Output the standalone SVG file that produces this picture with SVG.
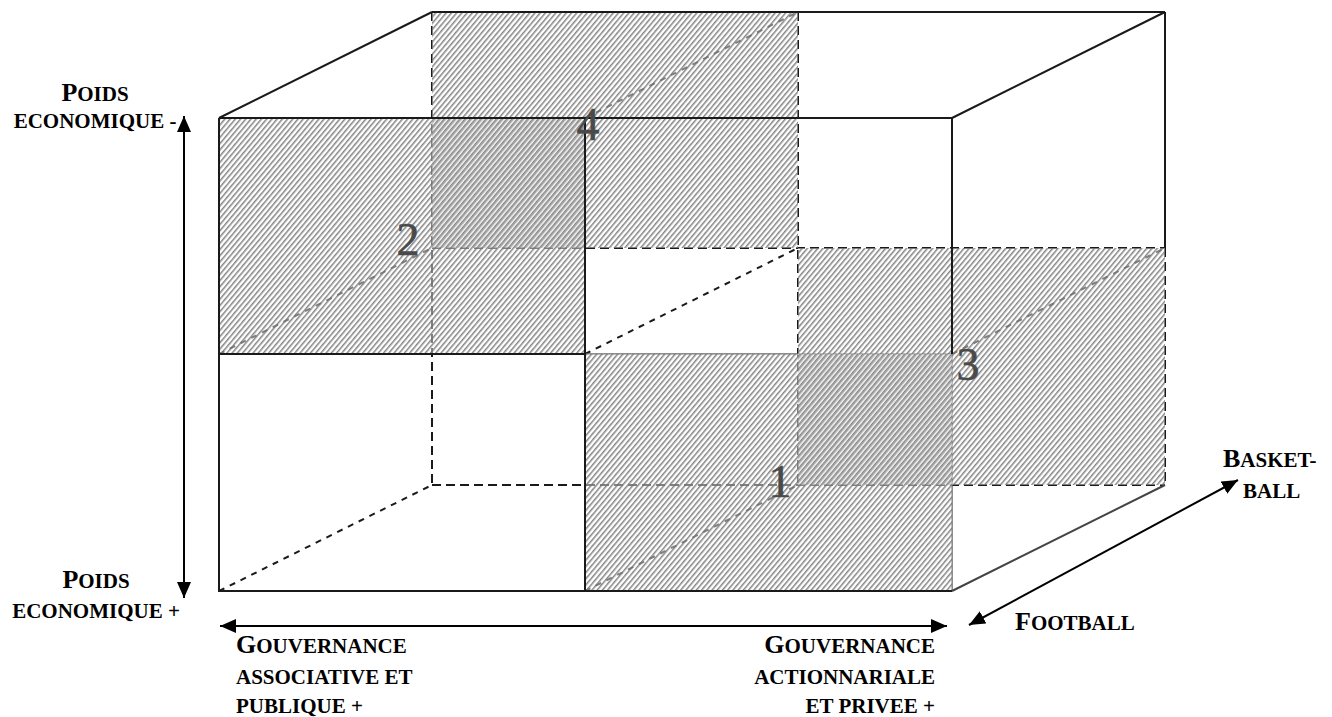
<svg xmlns="http://www.w3.org/2000/svg" width="1332" height="717" viewBox="0 0 1332 717">
<style>
.solid{fill:none;stroke:#1a1a1a;stroke-width:2}
.grey{fill:none;stroke:#666;stroke-width:1.5}
.dash{fill:none;stroke:#1a1a1a;stroke-width:2;stroke-dasharray:9 5}
.ddash{fill:none;stroke:#1a1a1a;stroke-width:2;stroke-dasharray:6 6}
.veil{fill:#fff;fill-opacity:0.45}
.lbl{font-family:"Liberation Serif","Times New Roman",serif;font-weight:bold;fill:#000;font-size:21px}
.big{font-size:26px}
.num{font-family:"Liberation Serif","Times New Roman",serif;font-size:46px;fill:#4a4a4a;stroke:#4a4a4a;stroke-width:0.6;text-anchor:middle}
.axis{fill:none;stroke:#000;stroke-width:2}
</style>
<defs>
<pattern id="hatchF" width="4" height="4" patternUnits="userSpaceOnUse" patternTransform="rotate(40)">
<line x1="0.8" y1="-1" x2="0.8" y2="5" stroke="#707070" stroke-width="1.3"/>
</pattern>
<pattern id="hatchB" width="4" height="4" patternUnits="userSpaceOnUse" patternTransform="rotate(40) translate(1.3,0)">
<line x1="0.8" y1="-1" x2="0.8" y2="5" stroke="#707070" stroke-width="1.3"/>
</pattern>
<marker id="ah" viewBox="0 0 16 14" refX="16" refY="7" markerWidth="16" markerHeight="14" orient="auto-start-reverse" markerUnits="userSpaceOnUse">
<path d="M0,0 L16,7 L0,14 z" fill="#000"/>
</marker>
</defs>
<rect width="1332" height="717" fill="#fff"/>

<g id="hidden-lines">
<line class="dash" x1="432" y1="12" x2="432" y2="485"/>
<line class="dash" x1="798" y1="12" x2="798" y2="485"/>
<line class="dash" x1="432" y1="248" x2="1165" y2="248"/>
<line class="dash" x1="432" y1="485" x2="1165" y2="485"/>
<line class="dash" x1="1165" y1="248" x2="1165" y2="485"/>
<line class="ddash" x1="585" y1="118" x2="798" y2="12"/>
<line class="ddash" x1="219" y1="354" x2="432" y2="248"/>
<line class="ddash" x1="585" y1="354" x2="798" y2="248"/>
<line class="ddash" x1="952" y1="354" x2="1165" y2="248"/>
<line class="ddash" x1="219" y1="591" x2="432" y2="485"/>
<line class="ddash" x1="585" y1="591" x2="798" y2="485"/>
<line class="grey" x1="585" y1="354" x2="952" y2="354"/>
<line class="grey" x1="952" y1="354" x2="952" y2="591"/>
</g>

<g id="region-back-top-left">
<rect class="veil" x="432" y="12" width="366" height="236"/>
<rect x="432" y="12" width="366" height="236" fill="url(#hatchB)"/>
</g>
<g id="region-back-bottom-right">
<rect class="veil" x="798" y="248" width="367" height="237"/>
<rect x="798" y="248" width="367" height="237" fill="url(#hatchB)"/>
</g>
<g id="region-front-top-left">
<rect class="veil" x="219" y="118" width="366" height="236"/>
<rect x="219" y="118" width="366" height="236" fill="url(#hatchF)"/>
</g>
<g id="region-front-bottom-right">
<rect class="veil" x="585" y="354" width="367" height="237"/>
<rect x="585" y="354" width="367" height="237" fill="url(#hatchF)"/>
</g>

<g id="visible-lines">
<path class="solid" d="M219,118 H952 V354 M219,118 V591 H952 M219,354 H585 M585,118 V591"/>
<line class="solid" x1="432" y1="12" x2="1165" y2="12"/>
<line class="solid" x1="1165" y1="12" x2="1165" y2="248"/>
<line class="solid" x1="219" y1="118" x2="432" y2="12"/>
<line class="solid" x1="952" y1="118" x2="1165" y2="12"/>
<line fill="none" stroke="#444" stroke-width="2" x1="952" y1="591" x2="1165" y2="485"/>
</g>

<g id="numbers">
<text class="num" x="588" y="140">4</text>
<text class="num" x="408" y="255">2</text>
<text class="num" x="968" y="380">3</text>
<text class="num" x="780" y="497">1</text>
</g>

<g id="connectors">
<line class="axis" x1="184" y1="116" x2="184" y2="598" marker-start="url(#ah)" marker-end="url(#ah)"/>
<line class="axis" x1="220" y1="626" x2="947" y2="626" marker-start="url(#ah)" marker-end="url(#ah)"/>
<line class="axis" x1="969" y1="625" x2="1238" y2="480" marker-start="url(#ah)" marker-end="url(#ah)"/>
</g>

<g id="label-poids-minus">
<text class="lbl" x="95" y="101" text-anchor="middle"><tspan class="big">P</tspan>OIDS</text>
<text class="lbl" x="95" y="128" text-anchor="middle">ECONOMIQUE -</text>
</g>
<g id="label-poids-plus">
<text class="lbl" x="96" y="588" text-anchor="middle"><tspan class="big">P</tspan>OIDS</text>
<text class="lbl" x="96" y="618" text-anchor="middle">ECONOMIQUE +</text>
</g>
<g id="label-gouv-assoc">
<text class="lbl" x="236" y="653"><tspan class="big">G</tspan>OUVERNANCE</text>
<text class="lbl" x="236" y="684">ASSOCIATIVE ET</text>
<text class="lbl" x="236" y="713">PUBLIQUE +</text>
</g>
<g id="label-gouv-action">
<text class="lbl" x="935" y="653" text-anchor="end"><tspan class="big">G</tspan>OUVERNANCE</text>
<text class="lbl" x="935" y="684" text-anchor="end">ACTIONNARIALE</text>
<text class="lbl" x="935" y="713" text-anchor="end">ET PRIVEE +</text>
</g>
<g id="label-basket">
<text class="lbl" x="1223" y="467"><tspan class="big">B</tspan>ASKET-</text>
<text class="lbl" x="1243" y="498">BALL</text>
</g>
<g id="label-football">
<text class="lbl" x="1015" y="630"><tspan class="big">F</tspan>OOTBALL</text>
</g>
</svg>
